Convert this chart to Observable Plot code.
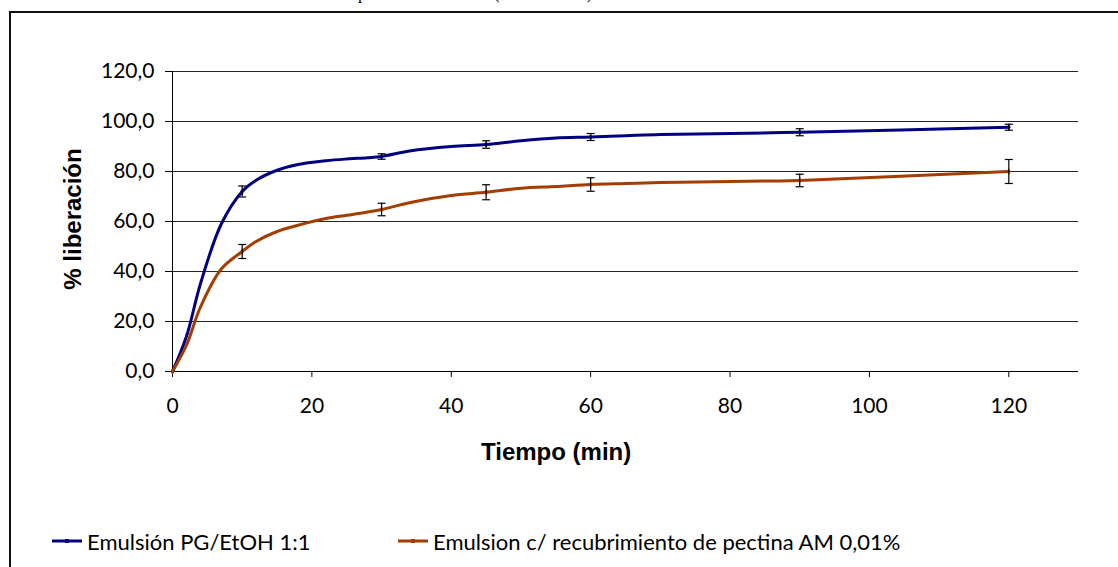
<!DOCTYPE html>
<html>
<head>
<meta charset="utf-8">
<script src="https://cdn.jsdelivr.net/npm/d3@7"></script>
<script src="https://cdn.jsdelivr.net/npm/@observablehq/plot@0.6"></script>
<style>
  html, body { margin: 0; padding: 0; background: #fff; }
  body { width: 1118px; height: 567px; overflow: hidden; position: relative; }
  #frame { position: absolute; left: 9px; top: 11px; width: 1200px; height: 700px; border: 2px solid #111; box-sizing: border-box; }
  #chart { position: absolute; left: 0; top: 0; }
  .lbl { position: absolute; font-family: "Liberation Sans", Arial, sans-serif; font-weight: bold; font-size: 24px; color: #000; white-space: nowrap; line-height: 1; }
  #legend { position: absolute; left: 0; top: 528px; font-family: Lato, "Open Sans", sans-serif; font-size: 22px; color: #000; }
  .item { position: absolute; top: 0; white-space: nowrap; display: flex; align-items: center; height: 26px; }
  .item svg { margin-right: 5px; }
  #cut { position: absolute; left: 0; top: 0; }
</style>
</head>
<body>
<svg id="cut" width="1118" height="12"></svg>
<div id="frame"></div>
<div id="chart"></div>
<div class="lbl" id="xlab">Tiempo (min)</div>
<div class="lbl" id="ylab">% liberación</div>
<div id="legend"></div>
<script>
// Sampling times (min)
const times = [0, 2, 4, 7, 10, 12, 15, 18, 22, 25, 28, 30, 34, 40, 45, 50, 55, 60, 65, 70, 80, 86, 90, 120];
// % release, emulsion PG/EtOH 1:1
const serieA = [0, 14, 35, 59, 72, 76.5, 80.5, 82.8, 84.3, 85, 85.5, 86, 88.2, 90, 90.8, 92.3, 93.4, 93.8, 94.3, 94.8, 95.2, 95.5, 95.7, 97.7];
// % release, emulsion with pectin AM 0.01% coating
const serieB = [0, 10.5, 25.7, 41, 48, 52, 56, 58.5, 61.2, 62.5, 63.8, 64.8, 67.5, 70.4, 71.7, 73.3, 74, 74.8, 75.2, 75.6, 76, 76.2, 76.4, 80];
// Replicate spread (± SD) at the measured points
const errTimes = [10, 30, 45, 60, 90, 120];
const errA = [2.2, 1.1, 1.5, 1.4, 1.4, 1.2];
const errB = [2.8, 2.5, 3.0, 2.7, 2.5, 4.8];
const markerTimes = [0, 10, 30, 45, 60, 90, 120];

const names = ["Emulsión PG/EtOH 1:1", "Emulsion c/ recubrimiento de pectina AM 0,01%"];
const colors = ["#000080", "#A33D00"];
const xTicks = [0, 20, 40, 60, 80, 100, 120];
const yTicks = [0, 20, 40, 60, 80, 100, 120];

const series = [serieA, serieB];
const rows = series.flatMap((vals, s) => times.map((t, i) => ({t, v: vals[i], s: names[s]})));
const errRows = series.flatMap((vals, s) => errTimes.map((t, i) => {
  const v = vals[times.indexOf(t)];
  const e = [errA, errB][s][i];
  return {t, v, lo: v - e, hi: v + e, s: names[s]};
}));
const markRows = rows.filter(d => markerTimes.includes(d.t));
const caps = errRows.flatMap(d => [{t: d.t, v: d.lo}, {t: d.t, v: d.hi}]);

// horizontal bar symbol used for the error-bar caps
const capSymbol = {draw(ctx, size) { const w = Math.sqrt(size / Math.PI); ctx.moveTo(-w, 0); ctx.lineTo(w, 0); }};

const fmt = d => d.toFixed(1).replace(".", ",");

const chart = Plot.plot({
  width: 1118,
  height: 420,
  marginLeft: 172,
  marginRight: 40,
  marginTop: 71,
  marginBottom: 49,
  style: {fontFamily: "Lato, 'Open Sans', sans-serif", fontSize: "21px", color: "#000", background: "transparent", overflow: "visible"},
  x: {domain: [0, 130], ticks: xTicks, label: null},
  y: {domain: [0, 120], ticks: yTicks, label: null, tickFormat: fmt},
  color: {domain: names, range: colors},
  marks: [
    Plot.ruleY(yTicks, {x1: 0, x2: 130, stroke: "#000", strokeWidth: 1, strokeOpacity: 0.85}),
    Plot.axisX({ticks: xTicks, tickSize: 6, tickPadding: 21, stroke: "#000", label: null}),
    Plot.axisY({ticks: yTicks, tickSize: 7, tickPadding: 11, tickFormat: fmt, stroke: "#000", label: null}),
    Plot.ruleX([0], {stroke: "#000", strokeWidth: 1}),
    Plot.ruleY([0], {x1: 0, x2: 130, stroke: "#000", strokeWidth: 1}),
    Plot.line(rows, {x: "t", y: "v", z: "s", stroke: "s", strokeWidth: 3, curve: "catmull-rom"}),
    Plot.dot(markRows, {x: "t", y: "v", fill: "s", r: 2, symbol: "diamond"}),
    Plot.ruleX(errRows, {x: "t", y1: "lo", y2: "hi", stroke: "#000", strokeWidth: 1.2}),
    Plot.dot(caps, {x: "t", y: "v", r: 4, symbol: capSymbol, stroke: "#000", strokeWidth: 1.2, fill: "none"})
  ]
});
document.getElementById("chart").appendChild(chart);

// axis titles
const xlab = document.getElementById("xlab");
xlab.style.left = (556 - xlab.offsetWidth / 2) + "px";
xlab.style.top = (452 - xlab.offsetHeight / 2) + "px";
const ylab = document.getElementById("ylab");
ylab.style.left = (72 - ylab.offsetWidth / 2) + "px";
ylab.style.top = (219 - ylab.offsetHeight / 2) + "px";
ylab.style.transform = "rotate(-90deg)";

// legend
const legend = document.getElementById("legend");
const legendX = [52, 398];
names.forEach((n, i) => {
  const it = document.createElement("div");
  it.className = "item";
  it.style.left = legendX[i] + "px";
  it.innerHTML = `<svg width="30" height="10"><line x1="0" x2="30" y1="5" y2="5" stroke="${colors[i]}" stroke-width="3"/><rect x="13" y="3" width="4" height="4" fill="${colors[i]}"/></svg><span>${n}</span>`;
  legend.appendChild(it);
});

// heading line above the frame, only its lower edge falls inside the page
const cut = document.getElementById("cut");
const head = "Cinética de liberación a temperatura controlada (baño a 37 ºC)";
const ctx = document.createElement("canvas").getContext("2d");
ctx.font = "17px 'Liberation Serif', 'Times New Roman', serif";
const pre = ctx.measureText("Cinética de liberación a tem").width;
const t = document.createElementNS("http://www.w3.org/2000/svg", "text");
t.setAttribute("x", 358 - pre);
t.setAttribute("y", -1);
t.setAttribute("font-family", "'Liberation Serif', 'Times New Roman', serif");
t.setAttribute("font-size", 17);
t.textContent = head;
cut.appendChild(t);
</script>
</body>
</html>
